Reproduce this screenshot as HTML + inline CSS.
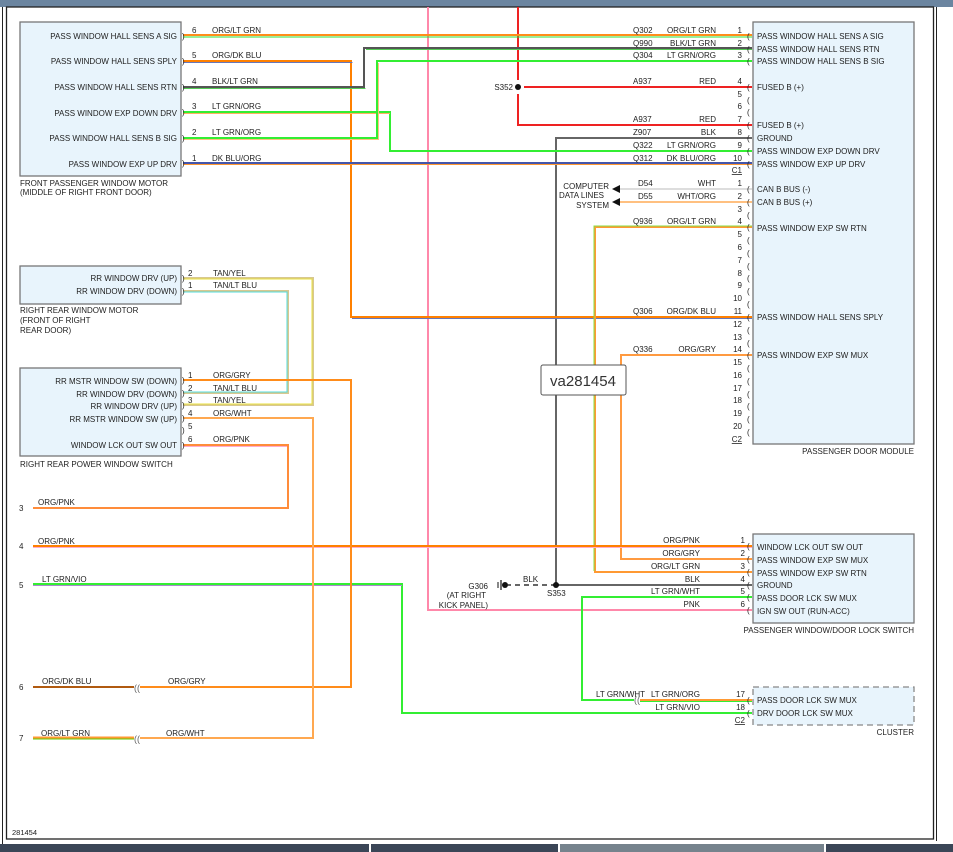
<!DOCTYPE html>
<html><head><meta charset="utf-8"><style>
html,body{margin:0;padding:0;background:#fff;}
svg{display:block;font-family:"Liberation Sans",sans-serif;}
text{font-size:8px;fill:#222;}
.b{fill:#e8f4fc;stroke:#777;stroke-width:1.3;}
.w{fill:none;stroke-width:2;stroke-linejoin:miter;}
.s{fill:none;stroke-width:1;}
.r{text-anchor:end;}
.c{fill:#666;font-size:9px;}
</style></head><body>
<svg width="953" height="852" viewBox="0 0 953 852" xmlns="http://www.w3.org/2000/svg">
<rect x="0" y="0" width="953" height="7" fill="#6b85a0"/>
<rect x="0" y="844" width="369" height="8" fill="#3b4657"/>
<rect x="371" y="844" width="187" height="8" fill="#3b4657"/>
<rect x="560" y="844" width="264" height="8" fill="#76838d"/>
<rect x="826" y="844" width="127" height="8" fill="#3b4657"/>
<line x1="2.5" y1="7" x2="2.5" y2="844" stroke="#222" stroke-width="1"/>
<rect x="6.5" y="7" width="927" height="832" fill="none" stroke="#222" stroke-width="1.3"/>
<line x1="936.5" y1="7" x2="936.5" y2="841" stroke="#222" stroke-width="1"/>

<!-- boxes -->
<rect class="b" x="20" y="22" width="161" height="154"/>
<rect class="b" x="20" y="266" width="161" height="38"/>
<rect class="b" x="20" y="368" width="161" height="88"/>
<rect class="b" x="753" y="22" width="161" height="422"/>
<rect class="b" x="753" y="534" width="161" height="89"/>
<rect x="753" y="687" width="161" height="38" fill="#e8f4fc" stroke="#888" stroke-width="1.3" stroke-dasharray="6,4"/>

<!-- wires -->
<!-- pink -->
<polyline class="w" stroke="#ff88aa" points="428,7 428,610 752,610"/>
<!-- red -->
<polyline class="w" stroke="#ee2222" points="518,7 518,80"/>
<polyline class="w" stroke="#ee2222" points="518,94 518,125 752,125"/>
<line class="w" stroke="#ee2222" x1="524" y1="87" x2="752" y2="87"/>
<!-- ground -->
<polyline class="w" stroke="#666" points="752,138 556,138 556,585 752,585"/>
<line x1="556" y1="585" x2="508" y2="585" stroke="#666" stroke-width="2" stroke-dasharray="5,4"/>
<circle cx="556" cy="585" r="3" fill="#111"/>
<circle cx="518" cy="87" r="3" fill="#111"/>
<circle cx="505" cy="585" r="3" fill="#111"/>
<line x1="501" y1="580" x2="501" y2="590" stroke="#111" stroke-width="1.2"/>
<line x1="498" y1="582" x2="498" y2="588" stroke="#111" stroke-width="1"/>
<!-- front motor pin6 -->
<line class="w" stroke="#ff8c1a" x1="183" y1="35" x2="752" y2="35"/>
<line class="s" stroke="#33dd33" x1="183" y1="37" x2="752" y2="37"/>
<!-- pin5 ORG/DK BLU -->
<polyline class="w" stroke="#ff8000" points="183,61 351,61 351,317 752,317"/>
<polyline class="s" stroke="#6677bb" points="183,62.5 352.5,62.5"/>
<line class="s" stroke="#6677bb" x1="352" y1="318.5" x2="752" y2="318.5"/>
<!-- pin4 BLK/LT GRN -->
<polyline class="w" stroke="#555" points="183,87 364,87 364,48 752,48"/>
<polyline class="s" stroke="#55cc55" points="183,88.5 365.5,88.5"/>
<line class="s" stroke="#55cc55" x1="366" y1="49.5" x2="752" y2="49.5"/>
<!-- pin3 LT GRN/ORG -->
<polyline class="w" stroke="#33ee33" points="183,112 390,112 390,151 752,151"/>
<line class="s" stroke="#ffb060" x1="183" y1="113.5" x2="390" y2="113.5"/>
<!-- pin2 LT GRN/ORG -->
<polyline class="w" stroke="#33ee33" points="183,138 377,138 377,61 752,61"/>
<polyline class="s" stroke="#ffc080" points="183,139.5 378.5,139.5 378.5,63"/>
<!-- pin1 DK BLU/ORG -->
<line class="w" stroke="#4455aa" x1="183" y1="163" x2="752" y2="163"/>
<line class="s" stroke="#ff9933" x1="183" y1="164.5" x2="752" y2="164.5"/>
<!-- CAN -->
<line class="w" stroke="#dddddd" x1="620" y1="189" x2="752" y2="189"/>
<line class="w" stroke="#ffc080" x1="620" y1="202" x2="752" y2="202"/>
<polygon points="612,189 620,185 620,193" fill="#111"/>
<polygon points="612,202 620,198 620,206" fill="#111"/>
<!-- Q936 -->
<polyline class="w" stroke="#ff9933" points="752,227 595,227 595,572 752,572"/>
<polyline class="s" stroke="#88dd44" points="752,226 594,226 594,571"/>
<!-- Q336 -->
<polyline class="w" stroke="#ff9a40" points="752,355 621,355 621,559 752,559"/>
<!-- ORG/PNK 4 -->
<line class="w" stroke="#ff8000" x1="33" y1="546" x2="752" y2="546"/>
<line class="s" stroke="#ffaacc" x1="33" y1="547.5" x2="752" y2="547.5"/>
<!-- LT GRN/WHT -->
<polyline class="w" stroke="#33ee33" points="752,597 582,597 582,700 634,700"/>
<line class="w" stroke="#ff9933" x1="640" y1="700" x2="752" y2="700"/>
<line class="s" stroke="#33ee33" x1="640" y1="701.5" x2="752" y2="701.5"/>
<!-- LT GRN/VIO 5 -->
<polyline class="w" stroke="#33ee33" points="33,584 402,584 402,713 752,713"/>
<line class="s" stroke="#aa88cc" x1="33" y1="585.5" x2="402" y2="585.5"/>
<!-- rear motor wires -->
<polyline class="w" stroke="#d8c890" points="183,278 313,278 313,405 183,405"/>
<polyline class="s" stroke="#e8e040" points="183,279 312,279 312,404 183,404"/>
<polyline class="w" stroke="#d8c890" points="183,291 288,291 288,393 183,393"/>
<polyline class="s" stroke="#55dddd" points="183,292 287,292 287,392 183,392"/>
<!-- rear switch -->
<polyline class="w" stroke="#ff8c1a" points="183,380 351,380 351,687 140,687"/>
<line class="w" stroke="#b05a10" x1="33" y1="687" x2="134" y2="687"/>
<polyline class="w" stroke="#ffa850" points="183,418 313,418 313,738 140,738"/>
<line class="w" stroke="#ff9933" x1="33" y1="737.5" x2="134" y2="737.5"/>
<line class="s" stroke="#66cc00" x1="33" y1="739" x2="134" y2="739"/>
<polyline class="w" stroke="#ff8c3a" points="183,445 288,445 288,508 33,508"/>
<line class="s" stroke="#ffaacc" x1="183" y1="446.5" x2="287" y2="446.5"/>

<!-- va label -->
<rect x="541" y="365" width="85" height="30" rx="2" fill="#fff" stroke="#555"/>
<text x="583" y="386" style="font-size:15px;fill:#333;text-anchor:middle">va281454</text>

<!-- front motor labels -->
<g class="r">
<text class="r" x="177" y="39">PASS WINDOW HALL SENS A SIG</text>
<text class="r" x="177" y="64">PASS WINDOW HALL SENS SPLY</text>
<text class="r" x="177" y="90">PASS WINDOW HALL SENS RTN</text>
<text class="r" x="177" y="116">PASS WINDOW EXP DOWN DRV</text>
<text class="r" x="177" y="141">PASS WINDOW HALL SENS B SIG</text>
<text class="r" x="177" y="167">PASS WINDOW EXP UP DRV</text>
</g>
<text x="20" y="186">FRONT PASSENGER WINDOW MOTOR</text>
<text x="20" y="195">(MIDDLE OF RIGHT FRONT DOOR)</text>
<text x="192" y="33">6</text><text x="212" y="33">ORG/LT GRN</text>
<text x="192" y="58">5</text><text x="212" y="58">ORG/DK BLU</text>
<text x="192" y="84">4</text><text x="212" y="84">BLK/LT GRN</text>
<text x="192" y="109">3</text><text x="212" y="109">LT GRN/ORG</text>
<text x="192" y="135">2</text><text x="212" y="135">LT GRN/ORG</text>
<text x="192" y="161">1</text><text x="212" y="161">DK BLU/ORG</text>
<g class="c"><text x="182" y="39">)</text><text x="182" y="64">)</text><text x="182" y="90">)</text><text x="182" y="115">)</text><text x="182" y="141">)</text><text x="182" y="166">)</text>
<text x="182" y="281">)</text><text x="182" y="294">)</text>
<text x="182" y="383">)</text><text x="182" y="396">)</text><text x="182" y="408">)</text><text x="182" y="421">)</text><text x="182" y="433">)</text><text x="182" y="448">)</text></g>

<!-- rear motor -->
<text class="r" x="177" y="281">RR WINDOW DRV (UP)</text>
<text class="r" x="177" y="294">RR WINDOW DRV (DOWN)</text>
<text x="20" y="313">RIGHT REAR WINDOW MOTOR</text>
<text x="20" y="323">(FRONT OF RIGHT</text>
<text x="20" y="333">REAR DOOR)</text>
<text x="188" y="276">2</text><text x="213" y="276">TAN/YEL</text>
<text x="188" y="288">1</text><text x="213" y="288">TAN/LT BLU</text>
<!-- rear switch -->
<text class="r" x="177" y="384">RR MSTR WINDOW SW (DOWN)</text>
<text class="r" x="177" y="397">RR WINDOW DRV (DOWN)</text>
<text class="r" x="177" y="409">RR WINDOW DRV (UP)</text>
<text class="r" x="177" y="422">RR MSTR WINDOW SW (UP)</text>
<text class="r" x="177" y="448">WINDOW LCK OUT SW OUT</text>
<text x="20" y="467">RIGHT REAR POWER WINDOW SWITCH</text>
<text x="188" y="378">1</text><text x="213" y="378">ORG/GRY</text>
<text x="188" y="391">2</text><text x="213" y="391">TAN/LT BLU</text>
<text x="188" y="403">3</text><text x="213" y="403">TAN/YEL</text>
<text x="188" y="416">4</text><text x="213" y="416">ORG/WHT</text>
<text x="188" y="429">5</text>
<text x="188" y="442">6</text><text x="213" y="442">ORG/PNK</text>
<!-- left numbers -->
<text x="19" y="511">3</text><text x="38" y="505">ORG/PNK</text>
<text x="19" y="549">4</text><text x="38" y="544">ORG/PNK</text>
<text x="19" y="588">5</text><text x="42" y="582">LT GRN/VIO</text>
<text x="19" y="690">6</text><text x="42" y="684">ORG/DK BLU</text>
<text x="19" y="741">7</text><text x="41" y="736">ORG/LT GRN</text>
<text x="168" y="684">ORG/GRY</text>
<text x="166" y="736">ORG/WHT</text>
<text class="c" x="134" y="691">((</text>
<text class="c" x="134" y="742">((</text>
<text x="12" y="835" style="font-size:7.5px">281454</text>

<!-- PDM -->
<g>
<text x="633" y="33">Q302</text><text class="r" x="716" y="33">ORG/LT GRN</text><text class="r" x="742" y="33">1</text>
<text x="633" y="46">Q990</text><text class="r" x="716" y="46">BLK/LT GRN</text><text class="r" x="742" y="46">2</text>
<text x="633" y="58">Q304</text><text class="r" x="716" y="58">LT GRN/ORG</text><text class="r" x="742" y="58">3</text>
<text x="633" y="84">A937</text><text class="r" x="716" y="84">RED</text><text class="r" x="742" y="84">4</text>
<text class="r" x="742" y="97">5</text>
<text class="r" x="742" y="109">6</text>
<text x="633" y="122">A937</text><text class="r" x="716" y="122">RED</text><text class="r" x="742" y="122">7</text>
<text x="633" y="135">Z907</text><text class="r" x="716" y="135">BLK</text><text class="r" x="742" y="135">8</text>
<text x="633" y="148">Q322</text><text class="r" x="716" y="148">LT GRN/ORG</text><text class="r" x="742" y="148">9</text>
<text x="633" y="161">Q312</text><text class="r" x="716" y="161">DK BLU/ORG</text><text class="r" x="742" y="161">10</text>
<text class="r" x="742" y="173" style="text-decoration:underline">C1</text>
<text x="638" y="186">D54</text><text class="r" x="716" y="186">WHT</text><text class="r" x="742" y="186">1</text>
<text x="638" y="199">D55</text><text class="r" x="716" y="199">WHT/ORG</text><text class="r" x="742" y="199">2</text>
<text class="r" x="742" y="212">3</text>
<text x="633" y="224">Q936</text><text class="r" x="716" y="224">ORG/LT GRN</text><text class="r" x="742" y="224">4</text>
<text class="r" x="742" y="237">5</text><text class="r" x="742" y="250">6</text><text class="r" x="742" y="263">7</text><text class="r" x="742" y="276">8</text><text class="r" x="742" y="288">9</text><text class="r" x="742" y="301">10</text>
<text x="633" y="314">Q306</text><text class="r" x="716" y="314">ORG/DK BLU</text><text class="r" x="742" y="314">11</text>
<text class="r" x="742" y="327">12</text><text class="r" x="742" y="340">13</text>
<text x="633" y="352">Q336</text><text class="r" x="716" y="352">ORG/GRY</text><text class="r" x="742" y="352">14</text>
<text class="r" x="742" y="365">15</text><text class="r" x="742" y="378">16</text><text class="r" x="742" y="391">17</text><text class="r" x="742" y="403">18</text><text class="r" x="742" y="416">19</text><text class="r" x="742" y="429">20</text>
<text class="r" x="742" y="442" style="text-decoration:underline">C2</text>
</g>
<g class="c">
<text x="747" y="39">(</text><text x="747" y="52">(</text><text x="747" y="64">(</text><text x="747" y="90">(</text><text x="747" y="103">(</text><text x="747" y="115">(</text><text x="747" y="128">(</text><text x="747" y="141">(</text><text x="747" y="154">(</text><text x="747" y="167">(</text>
<text x="747" y="192">(</text><text x="747" y="205">(</text><text x="747" y="218">(</text><text x="747" y="230">(</text><text x="747" y="243">(</text><text x="747" y="256">(</text><text x="747" y="269">(</text><text x="747" y="281">(</text><text x="747" y="294">(</text><text x="747" y="307">(</text><text x="747" y="320">(</text><text x="747" y="333">(</text><text x="747" y="346">(</text><text x="747" y="358">(</text><text x="747" y="371">(</text><text x="747" y="384">(</text><text x="747" y="397">(</text><text x="747" y="409">(</text><text x="747" y="422">(</text><text x="747" y="435">(</text>
<text x="747" y="549">(</text><text x="747" y="562">(</text><text x="747" y="575">(</text><text x="747" y="588">(</text><text x="747" y="600">(</text><text x="747" y="613">(</text>
<text x="747" y="703">(</text><text x="747" y="716">(</text>
</g>
<text x="757" y="39">PASS WINDOW HALL SENS A SIG</text>
<text x="757" y="52">PASS WINDOW HALL SENS RTN</text>
<text x="757" y="64">PASS WINDOW HALL SENS B SIG</text>
<text x="757" y="90">FUSED B (+)</text>
<text x="757" y="128">FUSED B (+)</text>
<text x="757" y="141">GROUND</text>
<text x="757" y="154">PASS WINDOW EXP DOWN DRV</text>
<text x="757" y="167">PASS WINDOW EXP UP DRV</text>
<text x="757" y="192">CAN B BUS (-)</text>
<text x="757" y="205">CAN B BUS (+)</text>
<text x="757" y="231">PASS WINDOW EXP SW RTN</text>
<text x="757" y="320">PASS WINDOW HALL SENS SPLY</text>
<text x="757" y="358">PASS WINDOW EXP SW MUX</text>
<text class="r" x="914" y="454">PASSENGER DOOR MODULE</text>
<text class="r" x="513" y="90">S352</text>
<text class="r" x="609" y="189">COMPUTER</text>
<text class="r" x="604" y="198">DATA LINES</text>
<text class="r" x="609" y="208">SYSTEM</text>

<!-- switch -->
<text class="r" x="700" y="543">ORG/PNK</text><text class="r" x="745" y="543">1</text>
<text class="r" x="700" y="556">ORG/GRY</text><text class="r" x="745" y="556">2</text>
<text class="r" x="700" y="569">ORG/LT GRN</text><text class="r" x="745" y="569">3</text>
<text class="r" x="700" y="582">BLK</text><text class="r" x="745" y="582">4</text>
<text class="r" x="700" y="594">LT GRN/WHT</text><text class="r" x="745" y="594">5</text>
<text class="r" x="700" y="607">PNK</text><text class="r" x="745" y="607">6</text>
<text x="757" y="550">WINDOW LCK OUT SW OUT</text>
<text x="757" y="563">PASS WINDOW EXP SW MUX</text>
<text x="757" y="576">PASS WINDOW EXP SW RTN</text>
<text x="757" y="588">GROUND</text>
<text x="757" y="601">PASS DOOR LCK SW MUX</text>
<text x="757" y="614">IGN SW OUT (RUN-ACC)</text>
<text class="r" x="914" y="633">PASSENGER WINDOW/DOOR LOCK SWITCH</text>
<text x="523" y="582">BLK</text>
<text x="547" y="596">S353</text>
<text class="r" x="488" y="589">G306</text>
<text class="r" x="486" y="598">(AT RIGHT</text>
<text class="r" x="488" y="608">KICK PANEL)</text>
<!-- cluster -->
<text x="596" y="697">LT GRN/WHT</text>
<text class="c" x="634" y="703">((</text>
<text class="r" x="700" y="697">LT GRN/ORG</text><text class="r" x="745" y="697">17</text>
<text class="r" x="700" y="710">LT GRN/VIO</text><text class="r" x="745" y="710">18</text>
<text class="r" x="745" y="723" style="text-decoration:underline">C2</text>
<text x="757" y="703">PASS DOOR LCK SW MUX</text>
<text x="757" y="716">DRV DOOR LCK SW MUX</text>
<text class="r" x="914" y="735">CLUSTER</text>
</svg>
</body></html>
